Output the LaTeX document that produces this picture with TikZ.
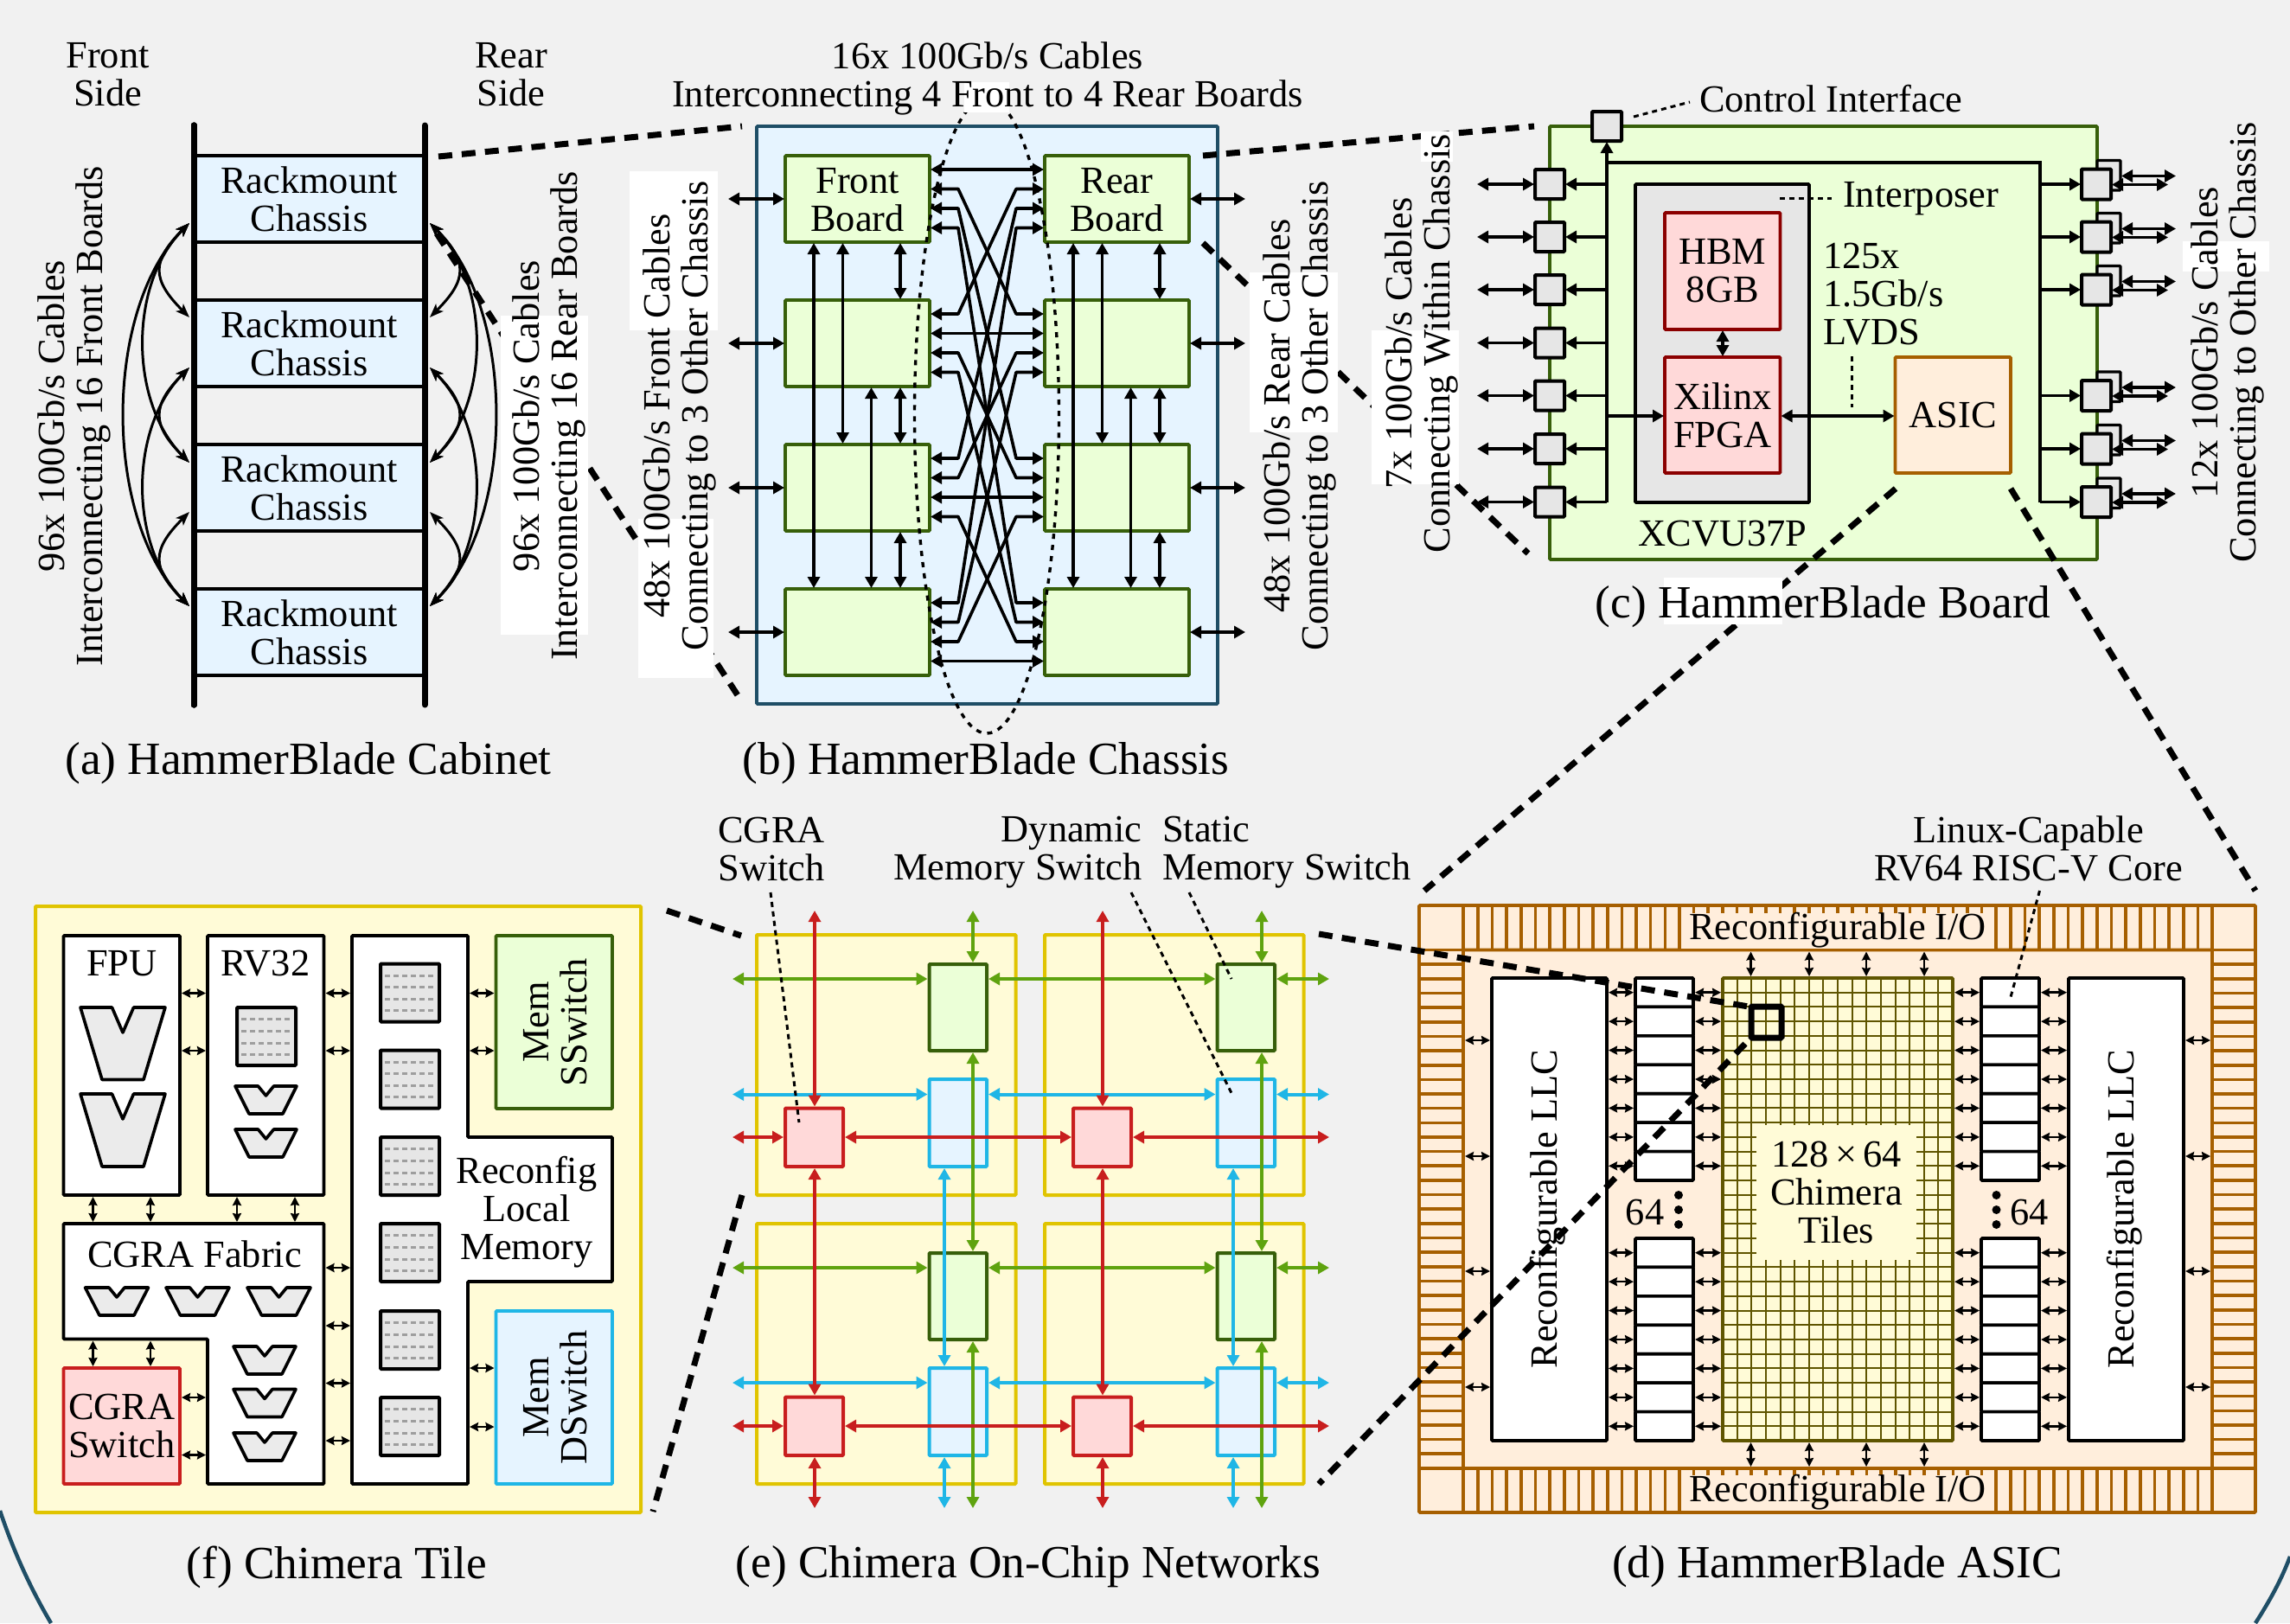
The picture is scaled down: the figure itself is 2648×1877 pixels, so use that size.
\documentclass[tikz,border=0pt]{standalone}
\usepackage{fontspec}
\setmainfont{Liberation Serif}
\usetikzlibrary{arrows.meta,calc,shapes.geometric}
\definecolor{bgc}{HTML}{F1F1F1}
\definecolor{blF}{HTML}{E6F4FF}
\definecolor{blS}{HTML}{1FB6E6}
\definecolor{teal}{HTML}{1F4E66}
\definecolor{grF}{HTML}{EBFFD7}
\definecolor{grS}{HTML}{375F0A}
\definecolor{grL}{HTML}{5FA30F}
\definecolor{rdF}{HTML}{FFD9D9}
\definecolor{rdS}{HTML}{C81E1E}
\definecolor{rdD}{HTML}{8B0000}
\definecolor{orF}{HTML}{FFEEDC}
\definecolor{orS}{HTML}{A65F00}
\definecolor{yeF}{HTML}{FFFBD7}
\definecolor{yeS}{HTML}{E0C400}
\definecolor{olS}{HTML}{5F5500}
\definecolor{gyF}{HTML}{E6E6E6}
\newcommand\fa{\fontsize{44.4}{44}\selectfont}
\newcommand\fb{\fontsize{53.3}{53}\selectfont}
% \rb{name}{style}{x1}{y1}{x2}{y2}{text}
\newcommand\rb[7]{\node[bx,#2,anchor=north west,minimum width={(#5)-(#3)},minimum height={(#6)-(#4)}] (#1) at (#3,#4) {#7};}
\newcommand\alu[7]{\draw[alus] ({#1-#3/2},#2) -- ({#1-#5/2},#2) -- (#1,{#2+#7}) -- ({#1+#5/2},#2) -- ({#1+#3/2},#2) -- ({#1+#4/2},{#2+#6}) -- ({#1-#4/2},{#2+#6}) -- cycle;}
\tikzset{
 x=1pt,y=-1pt,
 bx/.style={draw,line width=3.6pt,inner sep=0pt,outer sep=0pt,rounded corners=1pt,align=center,font=\fa},
 lbl/.style={inner sep=0pt,outer sep=0pt,align=center,font=\fa},
 capt/.style={inner sep=0pt,outer sep=0pt,font=\fb},
 chas/.style={draw=black,fill=blF},
 bdg/.style={draw=grS,fill=grF},
 bdb/.style={draw=blS,fill=blF},
 bdr/.style={draw=rdS,fill=rdF},
 gport/.style={draw=black,fill=gyF,line width=4pt},
 wht/.style={draw=black,fill=white},
 ar/.style={line width=3.6pt,<->,>={Triangle[length=13pt,width=14pt]},shorten <=1pt,shorten >=1pt},
 arone/.style={line width=3.6pt,->,>={Triangle[length=13pt,width=14pt]},shorten >=1pt},
 cv/.style={line width=3pt,<->,>={Stealth[length=16pt,width=12pt,inset=4pt]}},
 sa/.style={line width=2.6pt,<->,>={Stealth[length=10pt,width=10pt,inset=1pt]},shorten <=2pt,shorten >=2pt},
 net/.style={line width=4pt,<->,>={Triangle[length=13pt,width=14pt]},shorten <=2pt,shorten >=2pt},
 zoomln/.style={line width=7pt,black,dash pattern=on 16pt off 11pt},
 ldr/.style={line width=3pt,black,dash pattern=on 6pt off 5pt},
 alus/.style={draw=black,fill=gyF!80!white,line width=3.6pt,line join=round},
 msq/.style={draw=black,fill=gyF,line width=4pt,inner sep=0pt,outer sep=0pt,rounded corners=1pt},
 gdash/.style={line width=3pt,color=black!38,dash pattern=on 6pt off 4pt},
 stripe/.style={orS,line width=3.6pt},
}
\begin{document}
\begin{tikzpicture}
\useasboundingbox (0,0) rectangle (2648,1877);
\fill[bgc] (0,0) rectangle (2648,1877);
% outer arcs
\coordinate (arcLa) at (0,1747); \coordinate (arcLb) at (59,1877);
\coordinate (arcRa) at (2648,1800); \coordinate (arcRb) at (2608,1877);
\draw[teal,line width=4.5pt] (arcLa) .. controls (16,1795) and (36,1838) .. (arcLb);
\draw[teal,line width=4.5pt] (arcRa) .. controls (2638,1827) and (2624,1852) .. (arcRb);

%% ===== (a) =====
\coordinate (railLt) at (224,145); \coordinate (railLb) at (224,815);
\coordinate (railRt) at (491,145); \coordinate (railRb) at (491,815);
\foreach \n/\y in {1/180,2/347,3/514,4/681}
  \rb{Ch\n}{chas}{224}{\y}{491}{\y+100}{Rackmount\\Chassis}
\draw[line width=7pt,line cap=round] (railLt) -- (railLb);
\draw[line width=7pt,line cap=round] (railRt) -- (railRb);
\foreach \n/\y in {A/258,B/367,C/425,D/535,E/592,F/701}{
  \coordinate (aL\n) at (219,\y);
  \coordinate (aR\n) at (497,\y);
}
\foreach \p/\q/\d in {A/B/44,A/D/70,A/F/100,C/D/44,C/F/70,E/F/44}{
  \draw[cv] (aL\p) .. controls ([shift={(-\d,\d)}]aL\p) and ([shift={(-\d,-\d)}]aL\q) .. (aL\q);
  \draw[cv] (aR\p) .. controls ([shift={(\d,\d)}]aR\p) and ([shift={(\d,-\d)}]aR\q) .. (aR\q);
}

%% ===== (b) =====
\rb{ChB}{draw=teal,fill=blF}{875}{146}{1408}{814}{}
\foreach \n/\y in {1/180,2/347,3/514,4/681}{
  \rb{F\n}{bdg}{908}{\y}{1075}{\y+100}{}
  \rb{R\n}{bdg}{1208}{\y}{1375}{\y+100}{}
}
\node[lbl] (lF) at ([yshift=-1pt]F1) {Front\\Board};
\node[lbl] (lR) at ([yshift=-1pt]R1) {Rear\\Board};
\node[draw,ellipse,line width=3.4pt,dash pattern=on 6pt off 7pt,minimum width=167pt,minimum height=734pt,inner sep=0pt] (ell) at (1141,481) {};
\foreach \n in {1,2,3,4}{
  \draw[ar] (841,0 |- F\n.west) -- (F\n.west);
  \draw[ar] (R\n.east) -- (1441,0 |- R\n.east);
}
\foreach \o in {0,300}{
  \draw[ar] ({941+\o},0 |- F1.south) -- ({941+\o},0 |- F4.north);
  \draw[ar] ({974.5+\o},0 |- F1.south) -- ({974.5+\o},0 |- F3.north);
  \draw[ar] ({1041+\o},0 |- F1.south) -- ({1041+\o},0 |- F2.north);
  \draw[ar] ({1007.5+\o},0 |- F2.south) -- ({1007.5+\o},0 |- F4.north);
  \draw[ar] ({1041+\o},0 |- F2.south) -- ({1041+\o},0 |- F3.north);
  \draw[ar] ({1041+\o},0 |- F3.south) -- ({1041+\o},0 |- F4.north);
}
\foreach \i in {1,2,3,4}\foreach \j in {1,2,3,4}{
  \pgfmathsetmacro\pa{16+22.5*(\j-1)}
  \pgfmathsetmacro\pb{16+22.5*(\i-1)}
  \draw[ar,line join=round] ([yshift=-\pa pt]F\i.north east) -- ([xshift=33pt,yshift=-\pa pt]F\i.north east)
     -- ([xshift=-33pt,yshift=-\pb pt]R\j.north west) -- ([yshift=-\pb pt]R\j.north west);
}

%% ===== (c) =====
\rb{Bd}{bdg}{1792}{146}{2425}{647}{}
\rb{Ipo}{draw=black,fill=gyF}{1891}{213}{2092}{581}{}
\rb{HBM}{draw=rdD,fill=rdF}{1925}{246}{2058.5}{381}{HBM\\8GB}
\rb{FPGA}{draw=rdD,fill=rdF}{1925}{413}{2058.5}{547}{Xilinx\\FPGA}
\rb{ASIC}{draw=orS,fill=orF}{2191.5}{413}{2325}{547}{ASIC}
\rb{CI}{gport}{1841}{129}{1875}{163}{}
\coordinate (busTL) at (1858,188); \coordinate (busTR) at (2359,188);
\coordinate (busBL) at (1858,581); \coordinate (busBR) at (2359,581);
\draw[line width=3.6pt,line join=miter] (busBL) -- (busTL) -- (busTR) -- (busBR);
\draw[arone] (busTL) -- (busTL |- CI.south);
\foreach \n/\y in {1/213,2/274,3/335,4/396.5,5/457.5,6/519,7/580.5}{
  \rb{LP\n}{gport}{1775}{\y-17}{1809}{\y+17}{}
  \draw[arone] (busTL |- LP\n.east) -- (LP\n.east);
  \draw[ar] (1707,0 |- LP\n.west) -- (LP\n.west);
}
\foreach \n/\y in {1/213,2/274,3/335,4/457.5,5/519,6/580.5}{
  \rb{RB\n}{gport,line width=3.4pt}{2425}{\y-27.5}{2452}{\y+7}{}
  \rb{RP\n}{gport}{2407}{\y-17.5}{2441}{\y+17.5}{}
  \draw[arone] (busTR |- RP\n.west) -- (RP\n.west);
  \draw[ar] (RB\n.east |- 0,\y-9.5) -- (2517,\y-9.5);
  \draw[ar] (RP\n.east |- 0,\y+0.5) -- (2508,\y+0.5);
}
\draw[ar] (1992,0 |- HBM.south) -- (1992,0 |- FPGA.north);
\draw[arone] (busBL |- 0,481) -- (FPGA.west |- 0,481);
\draw[ar] (FPGA.east |- 0,481) -- (ASIC.west |- 0,481);
\node[lbl] (xcvu) at (1992,617) {XCVU37P};
\node[lbl,anchor=west] (ipoT) at (2131,230) {Interposer};
\node[lbl,anchor=west,align=left] (lvds) at (2108,340) {125x\\1.5Gb/s\\LVDS};
\coordinate (ldA) at (2058,229.5); \coordinate (ldA2) at (2118,229.5);
\draw[ldr] (ldA) -- (ldA2);
\coordinate (ldB) at (2141,412); \coordinate (ldC) at (2141,471);
\draw[ldr] (ldB) -- (ldC);
\node[lbl,anchor=west] (ciT) at (1965,114) {Control Interface};
\coordinate (ciA) at (1889,135); \coordinate (ciB) at (1954,118);
\draw[ldr] (ciA) -- (ciB);

%% ===== (d) =====
\rb{Outer}{draw=orS,fill=orF}{1641}{1047}{2608}{1749}{}
\foreach \k in {0,...,52}{
  \draw[stripe] ({2558-16.65*\k},1047) -- ({2558-16.65*\k},1098.5);
  \draw[stripe] ({2558-16.65*\k},1698) -- ({2558-16.65*\k},1749);
}
\foreach \k in {0,...,36}{
  \draw[stripe] (1641,{1098.5+16.65*\k}) -- (1692,{1098.5+16.65*\k});
  \draw[stripe] (2558,{1098.5+16.65*\k}) -- (2608,{1098.5+16.65*\k});
}
\rb{Ring}{draw=orS,fill=orF}{1692}{1098.5}{2558}{1698}{}
\draw[stripe] (Outer.west |- Ring.north) -- (Outer.east |- Ring.north);
\draw[stripe] (Outer.west |- Ring.south) -- (Outer.east |- Ring.south);
\node[fill=orF,inner sep=0pt,minimum width=362pt,minimum height=41pt,font=\fa] (ioT) at (2125,1076) {Reconfigurable I/O};
\node[fill=orF,inner sep=0pt,minimum width=362pt,minimum height=41pt,font=\fa] (ioB) at (2125,1726) {Reconfigurable I/O};
\rb{LLCL}{wht}{1725}{1131}{1858}{1666}{}
\rb{LLCR}{wht}{2392}{1131}{2525}{1666}{}
\node[lbl,rotate=90] (llcLt) at (1790,1398) {Reconfigurable LLC};
\node[lbl,rotate=90] (llcRt) at (2457,1398) {Reconfigurable LLC};
\rb{Grid}{draw=olS,fill=yeF}{1992}{1131}{2258}{1666}{}
\foreach \k in {1,...,15} \draw[olS,line width=2pt] ({1992+16.625*\k},0 |- Grid.north) -- ({1992+16.625*\k},0 |- Grid.south);
\foreach \k in {1,...,31} \draw[olS,line width=2pt] (Grid.west |- 0,{1131+16.72*\k}) -- (Grid.east |- 0,{1131+16.72*\k});
\node[fill=yeF,inner sep=0pt,minimum width=185pt,minimum height=156pt,align=center,font=\fa] (tiles) at (2123.5,1379) {128\,×\,64\\Chimera\\Tiles};
\rb{Hi}{draw=black,line width=7pt}{2025}{1164}{2060}{1200}{}
\foreach \c/\xa/\ll/\rr in {L/1891/LLCL.east/Grid.west,R/2291/Grid.east/LLCR.west}
 \foreach \p/\ya in {U/1131,D/1432}
  \foreach \i in {1,...,7}{
   \pgfmathsetmacro\yy{\ya+33.43*(\i-1)}
   \rb{cell\c\p\i}{wht}{\xa}{\yy}{\xa+67}{\yy+33.43}{}
   \draw[sa] (\ll |- cell\c\p\i.center) -- (cell\c\p\i.west);
   \draw[sa] (cell\c\p\i.east) -- (\rr |- cell\c\p\i.center);
  }
\foreach \x in {2024.5,2092,2158,2225}{
  \draw[sa] (\x,0 |- Ring.north) -- (\x,0 |- Grid.north);
  \draw[sa] (\x,0 |- Grid.south) -- (\x,0 |- Ring.south);
}
\foreach \y in {1203,1337,1470,1604}{
  \draw[sa] (Ring.west |- 0,\y) -- (LLCL.west |- 0,\y);
  \draw[sa] (LLCR.east |- 0,\y) -- (Ring.east |- 0,\y);
}
\node[lbl] (n64a) at (1902,1402) {64};
\node[lbl] (n64b) at (2346.5,1402) {64};
\foreach \y in {1382,1399,1416}{
  \fill (1941,\y) circle (5);
  \fill (2308.5,\y) circle (5);
}

%% ===== (e) =====
\foreach \c/\tx in {1/875,2/1208}\foreach \r/\ty in {1/1081,2/1415}{
  \rb{T\c\r}{draw=yeS,fill=yeF,line width=4pt}{\tx}{\ty}{\tx+299.5}{\ty+301}{}
  \rb{G\c\r}{bdg,line width=4pt}{\tx+199.5}{\ty+34}{\tx+266}{\ty+134}{}
  \rb{B\c\r}{bdb,line width=4pt}{\tx+199.5}{\ty+167}{\tx+266}{\ty+268}{}
  \rb{C\c\r}{bdr,line width=4pt}{\tx+33}{\ty+200.5}{\tx+100}{\ty+268}{}
}
% green
\foreach \r/\y in {1/1132,2/1466}{
  \draw[net,grL] (845,\y) -- (G1\r.west |- 0,\y);
  \draw[net,grL] (G1\r.east |- 0,\y) -- (G2\r.west |- 0,\y);
  \draw[net,grL] (G2\r.east |- 0,\y) -- (1539,\y);
}
% blue horizontal
\foreach \r/\y in {1/1265.5,2/1599}{
  \draw[net,blS] (845,\y) -- (B1\r.west |- 0,\y);
  \draw[net,blS] (B1\r.east |- 0,\y) -- (B2\r.west |- 0,\y);
  \draw[net,blS] (B2\r.east |- 0,\y) -- (1539,\y);
}
% verticals
\foreach \c/\xg/\xb in {1/1125/1092,2/1459/1426}{
  \draw[net,blS] (\xb,0 |- B\c1.south) -- (\xb,0 |- B\c2.north);
  \draw[net,blS] (\xb,0 |- B\c2.south) -- (\xb,1746);
  \draw[net,grL] (\xg,1051) -- (\xg,0 |- G\c1.north);
  \draw[net,grL] (\xg,0 |- G\c1.south) -- (\xg,0 |- G\c2.north);
  \draw[net,grL] (\xg,0 |- G\c2.south) -- (\xg,1746);
}
% red
\foreach \c/\xr in {1/942,2/1275}{
  \draw[net,rdS] (\xr,1051) -- (\xr,0 |- C\c1.north);
  \draw[net,rdS] (\xr,0 |- C\c1.south) -- (\xr,0 |- C\c2.north);
  \draw[net,rdS] (\xr,0 |- C\c2.south) -- (\xr,1746);
}
\foreach \r/\y in {1/1315,2/1649}{
  \draw[net,rdS] (845,\y) -- (C1\r.west |- 0,\y);
  \draw[net,rdS] (C1\r.east |- 0,\y) -- (C2\r.west |- 0,\y);
  \draw[net,rdS] (C2\r.east |- 0,\y) -- (1539,\y);
}

%% ===== (f) =====
\rb{TileF}{draw=yeS,fill=yeF,line width=4pt}{41}{1048}{741}{1749}{}
\rb{FPU}{wht}{73.5}{1082}{208}{1382}{}
\rb{RV}{wht}{240}{1082}{374.5}{1382}{}
\draw[line width=3.6pt,fill=white,rounded corners=1pt] (73.5,1415) -- (374.5,1415) -- (374.5,1716) -- (240,1716) -- (240,1548.5) -- (73.5,1548.5) -- cycle;
\coordinate (cgTL) at (73.5,1415); \coordinate (cgTR) at (374.5,1415); \coordinate (cgIn) at (240,1548.5);
\draw[line width=3.6pt,fill=white,rounded corners=1pt] (407,1082) -- (541,1082) -- (541,1315) -- (708,1315) -- (708,1482) -- (541,1482) -- (541,1716) -- (407,1716) -- cycle;
\coordinate (memL) at (407,1082); \coordinate (memR) at (541,1082);
\rb{SS}{bdg}{573.5}{1082}{708}{1282}{}
\rb{DS}{bdb}{573.5}{1516}{708}{1716}{}
\rb{CS}{bdr}{73.5}{1582}{208}{1716}{CGRA\\Switch}
\node[lbl,rotate=90] (ssT) at ([xshift=1pt]SS) {Mem\\SSwitch};
\node[lbl,rotate=90] (dsT) at ([xshift=1pt]DS) {Mem\\DSwitch};
\node[lbl] (fpuT) at (141,1114) {FPU};
\node[lbl] (rvT) at (307,1114) {RV32};
\node[lbl] (cgT) at (225,1450) {CGRA Fabric};
\node[lbl] (rlm) at (609,1402) {Reconfig\\Local\\Memory};
\foreach \y [count=\n] in {1114.5,1214.5,1315,1415,1516,1616}{
  \node[msq,minimum width=68pt,minimum height=67pt,anchor=north west] (msq\n) at (440,\y) {};
  \foreach \d in {13.5,27,41,54} \draw[gdash] (445,\y+\d) -- (504,\y+\d);
}
\node[msq,minimum width=68pt,minimum height=67pt,anchor=north west] (mrv) at (274,1165) {};
\foreach \d in {13.5,27,41,54} \draw[gdash] (279,1165+\d) -- (338,1165+\d);
\alu{142}{1165}{98}{48}{25}{83.5}{29}
\alu{142}{1265}{98}{48}{25}{84}{29}
\alu{307.5}{1256}{71}{39}{18}{32}{11}
\alu{307.5}{1306}{71}{39}{18}{32}{11}
\alu{135}{1489}{73}{40}{18}{32}{11}
\alu{228.5}{1489}{73}{40}{18}{32}{11}
\alu{322.5}{1489}{73}{40}{18}{32}{11}
\alu{306}{1557}{72}{40}{18}{32}{11}
\alu{306}{1606.5}{72}{40}{18}{32}{11}
\alu{306}{1657}{72}{40}{18}{32}{11}
\foreach \y in {1148.5,1215}{
  \draw[sa] (FPU.east |- 0,\y) -- (RV.west |- 0,\y);
  \draw[sa] (RV.east |- 0,\y) -- (memL |- 0,\y);
  \draw[sa] (memR |- 0,\y) -- (SS.west |- 0,\y);
}
\foreach \y in {1582,1650} \draw[sa] (memR |- 0,\y) -- (DS.west |- 0,\y);
\foreach \y in {1466,1533,1599.5,1666} \draw[sa] (cgTR |- 0,\y) -- (memL |- 0,\y);
\foreach \y in {1616,1682.5} \draw[sa] (CS.east |- 0,\y) -- (cgIn |- 0,\y);
\foreach \x in {107.5,174} {
  \draw[sa] (\x,0 |- FPU.south) -- (\x,0 |- cgTL);
  \draw[sa] (\x,0 |- cgIn) -- (\x,0 |- CS.north);
}
\foreach \x in {274,341} \draw[sa] (\x,0 |- RV.south) -- (\x,0 |- cgTL);

%% ===== leaders (thin dotted) =====
\coordinate (lA1) at (2358.5,1030); \coordinate (lA2) at (2325,1153);
\draw[ldr] (lA1) -- (lA2);
\coordinate (lB1) at (891,1032); \coordinate (lB2) at (924,1298);
\draw[ldr] (lB1) -- (lB2);
\coordinate (lC1) at (1308,1032); \coordinate (lC2) at (1424,1264);
\draw[ldr] (lC1) -- (lC2);
\coordinate (lD1) at (1375,1032); \coordinate (lD2) at (1424,1132);
\draw[ldr] (lD1) -- (lD2);

%% ===== zoom lines =====
\coordinate (za1) at (507,181); \coordinate (za2) at (858,146);
\draw[zoomln] (za1) -- (za2);
\coordinate (zb1) at (505,270); \coordinate (zb2) at (853,804);
\draw[zoomln] (zb1) -- (zb2);
\coordinate (zc1) at (1391,180); \coordinate (zc2) at (1774,146);
\draw[zoomln] (zc1) -- (zc2);
\coordinate (zd1) at (1391,281); \coordinate (zd2) at (1767,640);
\draw[zoomln] (zd1) -- (zd2);
\coordinate (ze1) at (2192,565); \coordinate (ze2) at (1647,1030);
\draw[zoomln] (ze1) -- (ze2);
\coordinate (zf1) at (2325,565); \coordinate (zf2) at (2608,1030);
\draw[zoomln] (zf1) -- (zf2);
\coordinate (zg1) at (1525,1080); \coordinate (zg2) at (2022,1164);
\draw[zoomln] (zg1) -- (zg2);
\coordinate (zh1) at (2018,1207); \coordinate (zh2) at (1525,1716);
\draw[zoomln] (zh1) -- (zh2);
\coordinate (zi1) at (771,1053); \coordinate (zi2) at (857,1082);
\draw[zoomln] (zi1) -- (zi2);
\coordinate (zj1) at (858,1382); \coordinate (zj2) at (755,1748);
\draw[zoomln] (zj1) -- (zj2);

%% ===== white patches =====
\fill[white] (579,365) rectangle (680,734);
\fill[white] (728,198) rectangle (830,382);
\fill[white] (738,600) rectangle (825,784);
\fill[white] (1115,95) rectangle (1167,130);
\fill[white] (1445,315) rectangle (1547,499.5);
\fill[white] (1643,152) rectangle (1680,187);
\fill[white] (1586,382) rectangle (1687,560);
\fill[white] (2524,279) rectangle (2624,314);
\fill[white] (1924,668) rectangle (2061,722);

%% ===== free labels =====
\node[lbl] (frontS) at (124.5,86) {Front\\Side};
\node[lbl] (rearS) at (591,86) {Rear\\Side};
\node[lbl,rotate=90] (tA) at (86,481) {96x 100Gb/s Cables\\Interconnecting 16 Front Boards};
\node[lbl,rotate=90] (tB) at (635,481) {96x 100Gb/s Cables\\Interconnecting 16 Rear Boards};
\node[lbl,rotate=90] (tC) at (786,481) {48x 100Gb/s Front Cables\\Connecting to 3 Other Chassis};
\node[lbl,rotate=90] (tD) at (1503,481) {48x 100Gb/s Rear Cables\\Connecting to 3 Other Chassis};
\node[lbl,rotate=90] (tE) at (1644,397) {7x 100Gb/s Cables\\Connecting Within Chassis};
\node[lbl,rotate=90] (tF) at (2576,396) {12x 100Gb/s Cables\\Connecting to Other Chassis};
\node[lbl] (tG) at (1142,91) {16x 100Gb/s Cables\\Interconnecting 4 Front to 4 Rear Boards};
\node[lbl] (tH) at (892,982) {CGRA\\Switch};
\node[lbl,align=right,anchor=east] (tI) at (1320.5,986) {Dynamic\\Memory Switch};
\node[lbl,align=left,anchor=west] (tJ) at (1344,986) {Static\\Memory Switch};
\node[lbl] (tK) at (2345.5,981) {Linux-Capable\\RV64 RISC-V Core};
\node[capt] (capA) at (356.5,883) {(a) HammerBlade Cabinet};
\node[capt] (capB) at (1140,883) {(b) HammerBlade Chassis};
\node[capt] (capC) at (2108,702) {(c) HammerBlade Board};
\node[capt] (capD) at (2124.5,1812) {(d) HammerBlade ASIC};
\node[capt] (capE) at (1189,1812) {(e) Chimera On-Chip Networks};
\node[capt] (capF) at (389.5,1812) {(f) Chimera Tile};
\end{tikzpicture}
\end{document}
